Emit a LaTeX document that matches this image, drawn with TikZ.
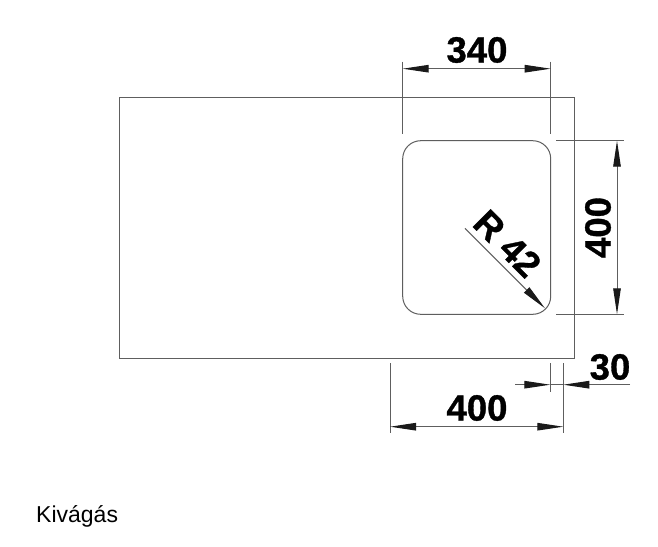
\documentclass[tikz,border=0pt]{standalone}
\usepackage{fontspec}
\setmainfont{Liberation Sans}
\newfontfamily\dimfont[FakeBold=0.9]{Liberation Sans Bold}
\usetikzlibrary{arrows.meta}
\definecolor{linegray}{HTML}{5E5E5E}
\definecolor{tipdark}{HTML}{1A1A1A}
\tikzset{
  outline/.style={draw=linegray,line width=1pt},
  extline/.style={draw=linegray,line width=1pt},
  dimline/.style={draw=linegray,line width=1pt,{Triangle[length=26pt,width=7.5pt,color=tipdark]}-{Triangle[length=26pt,width=7.5pt,color=tipdark]}},
  leader/.style={draw=linegray,line width=1pt,-{Triangle[length=26pt,width=7.5pt,color=tipdark]}},
  dimtext/.style={inner sep=0pt,font=\fontsize{36.5}{36.5}\dimfont,text=black},
  captiontext/.style={inner sep=0pt,anchor=base west,font=\fontsize{23}{23}\selectfont,text=black}
}
\begin{document}
\begin{tikzpicture}[x=1pt,y=-1pt]
\useasboundingbox[fill=white] (0,0) rectangle (658,546);
% outlines
\draw[outline] (119.5,97) rectangle (574.3,358);
\draw[outline,rounded corners=18pt] (402.7,140.7) rectangle (550.7,314.3);
% 340
\coordinate (a1) at (402.7,68.7);
\coordinate (a2) at (550.7,68.7);
\draw[extline] (402.7,61.7) -- (402.7,134.3);
\draw[extline] (550.7,61.7) -- (550.7,134.3);
\draw[dimline] (a1) -- (a2);
\node[dimtext] (t340) at (477,50) {340};
% vertical 400
\coordinate (b1) at (617,140.7);
\coordinate (b2) at (617,314.3);
\draw[extline] (556,140.7) -- (623.7,140.7);
\draw[extline] (556,314.3) -- (623.7,314.3);
\draw[dimline] (b1) -- (b2);
\node[dimtext,rotate=90] (tv400) at (598,227.5) {400};
% R 42
\coordinate (r1) at (465,228.3);
\coordinate (r2) at (545,308.3);
\draw[leader] (r1) -- (r2);
\node[dimtext,rotate=-45] (tr) at (507.5,243.5) {R 42};
% bottom 400
\coordinate (c1) at (390,426.7);
\coordinate (c2) at (563.3,426.7);
\draw[extline] (390,363.3) -- (390,433);
\draw[extline] (563.3,363.3) -- (563.3,433);
\draw[dimline] (c1) -- (c2);
\node[dimtext] (tb400) at (477,408) {400};
% 30
\coordinate (d0) at (515,384.7);
\coordinate (d1) at (550.3,384.7);
\coordinate (d2) at (563.3,384.7);
\coordinate (d3) at (630,384.7);
\draw[extline] (550.3,363.3) -- (550.3,391.7);
\draw[extline] (d1) -- (d2);
\draw[leader] (d0) -- (d1);
\draw[leader] (d3) -- (d2);
\node[dimtext] (t30) at (610,367) {30};
% caption
\node[captiontext] (cap) at (36,522) {Kivágás};
\end{tikzpicture}
\end{document}
